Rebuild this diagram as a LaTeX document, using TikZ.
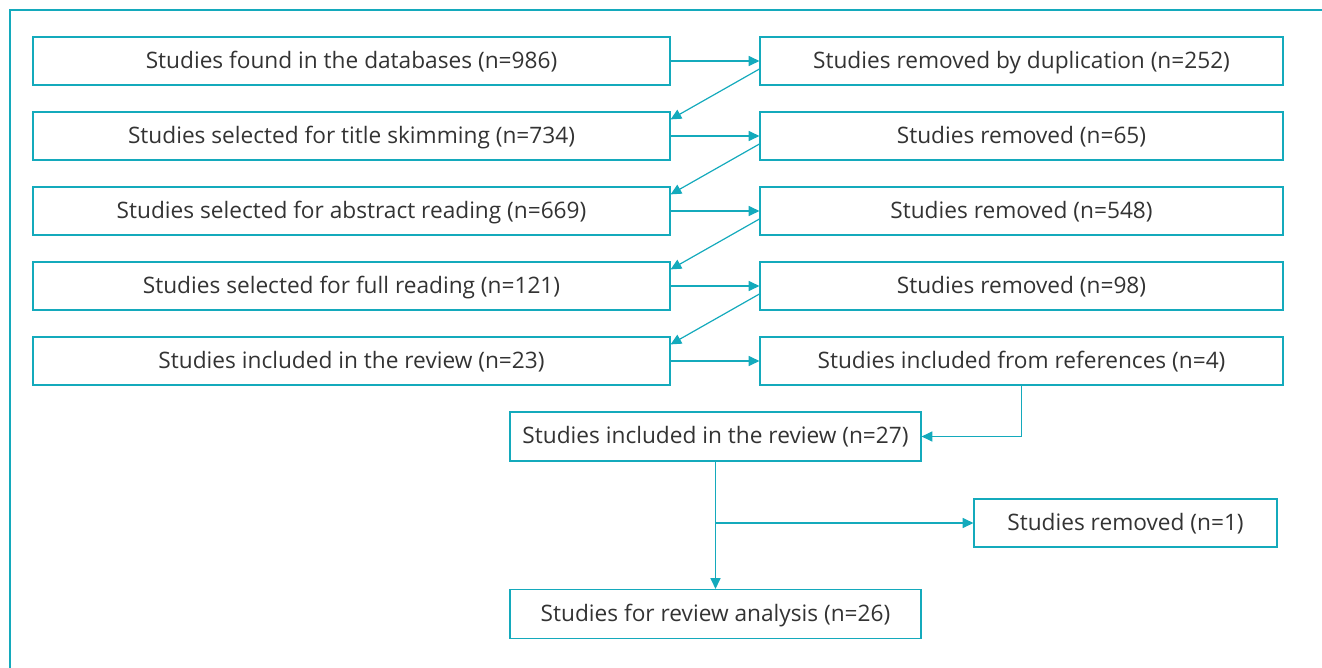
\documentclass[tikz,border=0pt]{standalone}
\usepackage{fontspec}
\setmainfont{Open Sans}
\usetikzlibrary{arrows.meta}
\definecolor{teal1}{RGB}{20,170,188}
\definecolor{txt}{RGB}{51,51,51}
\begin{document}
\begin{tikzpicture}[x=0.75pt,y=-0.75pt,
  box/.style={draw=teal1,line width=0.9pt,rectangle,inner sep=0pt,text=txt,font=\fontsize{17}{18}\selectfont,text height=10.6pt,text depth=0pt},
  lbox/.style={box,minimum width=637*0.75pt,minimum height=48*0.75pt},
  rbox/.style={box,minimum width=523*0.75pt,minimum height=48*0.75pt},
  cbox/.style={box,minimum width=411*0.75pt,minimum height=49*0.75pt},
  arr/.style={draw=teal1,line width=0.9pt,-{Triangle[length=8pt,width=7.5pt]}}]
\useasboundingbox (0,0) rectangle (1322,668);
\draw[draw=teal1,line width=1.5pt] (9.5,668) -- (9.5,9.5) -- (1322,9.5);
\node[lbox] (l1) at (351.5,61) {Studies found in the databases (n=986)};
\node[lbox] (l2) at (351.5,136) {Studies selected for title skimming (n=734)};
\node[lbox] (l3) at (351.5,211) {Studies selected for abstract reading (n=669)};
\node[lbox] (l4) at (351.5,286) {Studies selected for full reading (n=121)};
\node[lbox] (l5) at (351.5,361) {Studies included in the review (n=23)};
\node[rbox] (r1) at (1021.5,61) {Studies removed by duplication (n=252)};
\node[rbox] (r2) at (1021.5,136) {Studies removed (n=65)};
\node[rbox] (r3) at (1021.5,211) {Studies removed (n=548)};
\node[rbox] (r4) at (1021.5,286) {Studies removed (n=98)};
\node[rbox] (r5) at (1021.5,361) {Studies included from references (n=4)};
\node[cbox] (c1) at (715.5,436.5) {Studies included in the review (n=27)};
\node[box,minimum width=303*0.75pt,minimum height=48*0.75pt] (rm) at (1125.5,523) {Studies removed (n=1)};
\node[cbox] (c2) at (715.5,614) {Studies for review analysis (n=26)};
\foreach \i in {1,...,5}{\draw[arr] (l\i.east) -- (r\i.west);}
\foreach \i/\j in {1/2,2/3,3/4,4/5}{\draw[arr] ([yshift=-8*0.75pt]r\i.west) -- ([yshift=-8*0.75pt]l\j.north east);}
\draw[arr] (r5.south) |- (c1.east);
\draw[arr] (c1.south) -- (c2.north);
\coordinate (br) at (c1.south |- rm.west);
\draw[arr] (br) -- (rm.west);
\end{tikzpicture}
\end{document}
